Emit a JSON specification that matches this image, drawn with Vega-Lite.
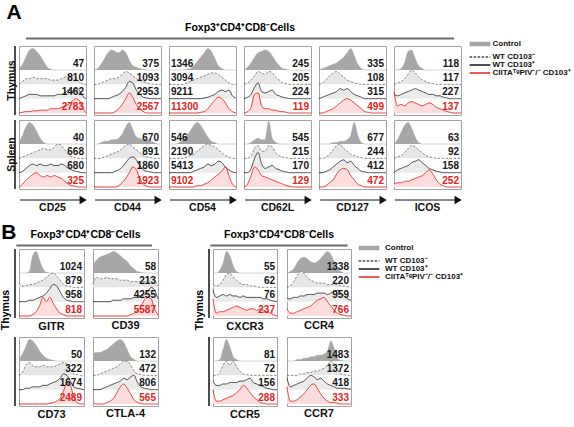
{
"$schema":"https://vega.github.io/schema/vega-lite/v6.json",
"background":"white",
"padding":{"left":1,"top":2,"right":0,"bottom":0},
"config":{"font":"Liberation Sans","view":{"stroke":"#a3a3a3","strokeWidth":1}},
"datasets":{
"A":[
{"t":"Thymus","m":"CD25","b":0,"c":1,"n":0,"p":0,"r":0},{"t":"Thymus","m":"CD25","b":1,"c":4,"n":2,"p":1,"r":0.5},{"t":"Thymus","m":"CD25","b":2,"c":9,"n":4,"p":2,"r":1},{"t":"Thymus","m":"CD25","b":3,"c":14,"n":4,"p":3,"r":1},{"t":"Thymus","m":"CD25","b":4,"c":15,"n":5,"p":3,"r":1.5},{"t":"Thymus","m":"CD25","b":5,"c":13,"n":4,"p":3,"r":1.5},{"t":"Thymus","m":"CD25","b":6,"c":10,"n":4,"p":2,"r":2},{"t":"Thymus","m":"CD25","b":7,"c":6,"n":4,"p":2,"r":2},{"t":"Thymus","m":"CD25","b":8,"c":2,"n":4,"p":2,"r":2},{"t":"Thymus","m":"CD25","b":9,"c":0.5,"n":3,"p":2,"r":3},{"t":"Thymus","m":"CD25","b":10,"c":0,"n":3,"p":2,"r":3},{"t":"Thymus","m":"CD25","b":11,"c":0,"n":3,"p":3,"r":3},{"t":"Thymus","m":"CD25","b":12,"c":0,"n":4,"p":3,"r":4},{"t":"Thymus","m":"CD25","b":13,"c":0,"n":5,"p":4,"r":5},{"t":"Thymus","m":"CD25","b":14,"c":0,"n":6,"p":6,"r":6},{"t":"Thymus","m":"CD25","b":15,"c":0,"n":6,"p":5,"r":8},{"t":"Thymus","m":"CD25","b":16,"c":0,"n":5,"p":7,"r":10},{"t":"Thymus","m":"CD25","b":17,"c":0,"n":2,"p":6,"r":9},{"t":"Thymus","m":"CD25","b":18,"c":0,"n":0.5,"p":2,"r":4},{"t":"Thymus","m":"CD25","b":19,"c":0,"n":0,"p":0,"r":0},
{"t":"Thymus","m":"CD44","b":0,"c":0,"n":0,"p":0,"r":0},{"t":"Thymus","m":"CD44","b":1,"c":1,"n":0,"p":0,"r":0},{"t":"Thymus","m":"CD44","b":2,"c":4,"n":1,"p":0,"r":0},{"t":"Thymus","m":"CD44","b":3,"c":8,"n":2,"p":0,"r":0},{"t":"Thymus","m":"CD44","b":4,"c":12,"n":3,"p":0,"r":0},{"t":"Thymus","m":"CD44","b":5,"c":14,"n":4,"p":1,"r":0},{"t":"Thymus","m":"CD44","b":6,"c":13,"n":4,"p":2,"r":1},{"t":"Thymus","m":"CD44","b":7,"c":12,"n":5,"p":3,"r":3},{"t":"Thymus","m":"CD44","b":8,"c":14,"n":7,"p":5,"r":6},{"t":"Thymus","m":"CD44","b":9,"c":12,"n":9,"p":8,"r":10},{"t":"Thymus","m":"CD44","b":10,"c":7,"n":8,"p":12,"r":14},{"t":"Thymus","m":"CD44","b":11,"c":3,"n":6,"p":11,"r":11},{"t":"Thymus","m":"CD44","b":12,"c":2,"n":4,"p":6,"r":6},{"t":"Thymus","m":"CD44","b":13,"c":1,"n":3,"p":3,"r":3},{"t":"Thymus","m":"CD44","b":14,"c":0.5,"n":2,"p":1,"r":1},{"t":"Thymus","m":"CD44","b":15,"c":0,"n":1,"p":0.5,"r":0},{"t":"Thymus","m":"CD44","b":16,"c":0,"n":0.5,"p":0,"r":0},{"t":"Thymus","m":"CD44","b":17,"c":0,"n":0,"p":0,"r":0},{"t":"Thymus","m":"CD44","b":18,"c":0,"n":0,"p":0,"r":0},{"t":"Thymus","m":"CD44","b":19,"c":0,"n":0,"p":0,"r":0},
{"t":"Thymus","m":"CD54","b":0,"c":0,"n":0,"p":0,"r":0},{"t":"Thymus","m":"CD54","b":1,"c":0,"n":0,"p":0,"r":0},{"t":"Thymus","m":"CD54","b":2,"c":0,"n":0,"p":0,"r":0},{"t":"Thymus","m":"CD54","b":3,"c":0,"n":0,"p":0,"r":0},{"t":"Thymus","m":"CD54","b":4,"c":0,"n":0,"p":0,"r":0},{"t":"Thymus","m":"CD54","b":5,"c":0.5,"n":1,"p":0,"r":0},{"t":"Thymus","m":"CD54","b":6,"c":1,"n":2,"p":0,"r":0},{"t":"Thymus","m":"CD54","b":7,"c":3,"n":3,"p":0,"r":0},{"t":"Thymus","m":"CD54","b":8,"c":6,"n":4,"p":0,"r":0},{"t":"Thymus","m":"CD54","b":9,"c":9,"n":5,"p":0,"r":0.5},{"t":"Thymus","m":"CD54","b":10,"c":12,"n":6,"p":0.5,"r":1},{"t":"Thymus","m":"CD54","b":11,"c":15,"n":7,"p":1,"r":3},{"t":"Thymus","m":"CD54","b":12,"c":13,"n":8,"p":2,"r":6},{"t":"Thymus","m":"CD54","b":13,"c":8,"n":8,"p":3,"r":9},{"t":"Thymus","m":"CD54","b":14,"c":3,"n":7,"p":5,"r":11},{"t":"Thymus","m":"CD54","b":15,"c":1,"n":5,"p":6,"r":10},{"t":"Thymus","m":"CD54","b":16,"c":0,"n":3,"p":5,"r":7},{"t":"Thymus","m":"CD54","b":17,"c":0,"n":1,"p":6,"r":3},{"t":"Thymus","m":"CD54","b":18,"c":0,"n":0,"p":2,"r":1},{"t":"Thymus","m":"CD54","b":19,"c":0,"n":0,"p":0.5,"r":0},
{"t":"Thymus","m":"CD62L","b":0,"c":0,"n":0,"p":0,"r":0},{"t":"Thymus","m":"CD62L","b":1,"c":2,"n":1,"p":1,"r":1},{"t":"Thymus","m":"CD62L","b":2,"c":5,"n":3,"p":3,"r":4},{"t":"Thymus","m":"CD62L","b":3,"c":9,"n":6,"p":8,"r":13},{"t":"Thymus","m":"CD62L","b":4,"c":12,"n":9,"p":11,"r":14},{"t":"Thymus","m":"CD62L","b":5,"c":13,"n":8,"p":5,"r":5},{"t":"Thymus","m":"CD62L","b":6,"c":14,"n":7,"p":4,"r":3},{"t":"Thymus","m":"CD62L","b":7,"c":13,"n":9,"p":5,"r":3},{"t":"Thymus","m":"CD62L","b":8,"c":10,"n":8,"p":6,"r":2},{"t":"Thymus","m":"CD62L","b":9,"c":6,"n":5,"p":3,"r":2},{"t":"Thymus","m":"CD62L","b":10,"c":3,"n":3,"p":2,"r":1},{"t":"Thymus","m":"CD62L","b":11,"c":1,"n":1,"p":1,"r":1},{"t":"Thymus","m":"CD62L","b":12,"c":0.5,"n":0.5,"p":0.5,"r":0.5},{"t":"Thymus","m":"CD62L","b":13,"c":0,"n":0,"p":0,"r":0},{"t":"Thymus","m":"CD62L","b":14,"c":0,"n":0,"p":0,"r":0},{"t":"Thymus","m":"CD62L","b":15,"c":0,"n":0,"p":0,"r":0},{"t":"Thymus","m":"CD62L","b":16,"c":0,"n":0,"p":0,"r":0},{"t":"Thymus","m":"CD62L","b":17,"c":0,"n":0,"p":0,"r":0},{"t":"Thymus","m":"CD62L","b":18,"c":0,"n":0,"p":0,"r":0},{"t":"Thymus","m":"CD62L","b":19,"c":0,"n":0,"p":0,"r":0},
{"t":"Thymus","m":"CD127","b":0,"c":0,"n":0,"p":0,"r":0},{"t":"Thymus","m":"CD127","b":1,"c":1,"n":1,"p":1,"r":0},{"t":"Thymus","m":"CD127","b":2,"c":2,"n":3,"p":2,"r":1},{"t":"Thymus","m":"CD127","b":3,"c":3,"n":6,"p":3,"r":2},{"t":"Thymus","m":"CD127","b":4,"c":4,"n":8,"p":4,"r":3},{"t":"Thymus","m":"CD127","b":5,"c":5,"n":9,"p":5,"r":5},{"t":"Thymus","m":"CD127","b":6,"c":7,"n":7,"p":7,"r":7},{"t":"Thymus","m":"CD127","b":7,"c":9,"n":5,"p":6,"r":9},{"t":"Thymus","m":"CD127","b":8,"c":12,"n":3,"p":7,"r":10},{"t":"Thymus","m":"CD127","b":9,"c":15,"n":2,"p":5,"r":9},{"t":"Thymus","m":"CD127","b":10,"c":10,"n":1,"p":3,"r":7},{"t":"Thymus","m":"CD127","b":11,"c":4,"n":0.5,"p":2,"r":5},{"t":"Thymus","m":"CD127","b":12,"c":1,"n":0,"p":1,"r":3},{"t":"Thymus","m":"CD127","b":13,"c":0,"n":0,"p":0,"r":1},{"t":"Thymus","m":"CD127","b":14,"c":0,"n":0,"p":0,"r":0.5},{"t":"Thymus","m":"CD127","b":15,"c":0,"n":0,"p":0,"r":0},{"t":"Thymus","m":"CD127","b":16,"c":0,"n":0,"p":0,"r":0},{"t":"Thymus","m":"CD127","b":17,"c":0,"n":0,"p":0,"r":0},{"t":"Thymus","m":"CD127","b":18,"c":0,"n":0,"p":0,"r":0},{"t":"Thymus","m":"CD127","b":19,"c":0,"n":0,"p":0,"r":0},
{"t":"Thymus","m":"ICOS","b":0,"c":0,"n":0,"p":3,"r":15},{"t":"Thymus","m":"ICOS","b":1,"c":0,"n":1,"p":2,"r":5},{"t":"Thymus","m":"ICOS","b":2,"c":1,"n":2,"p":3,"r":6},{"t":"Thymus","m":"ICOS","b":3,"c":5,"n":4,"p":4,"r":5},{"t":"Thymus","m":"ICOS","b":4,"c":13,"n":7,"p":5,"r":7},{"t":"Thymus","m":"ICOS","b":5,"c":14,"n":10,"p":6,"r":8},{"t":"Thymus","m":"ICOS","b":6,"c":8,"n":8,"p":7,"r":7},{"t":"Thymus","m":"ICOS","b":7,"c":3,"n":5,"p":6,"r":6},{"t":"Thymus","m":"ICOS","b":8,"c":1,"n":3,"p":5,"r":5},{"t":"Thymus","m":"ICOS","b":9,"c":0,"n":2,"p":4,"r":6},{"t":"Thymus","m":"ICOS","b":10,"c":0,"n":1,"p":3,"r":7},{"t":"Thymus","m":"ICOS","b":11,"c":0,"n":0.5,"p":3,"r":6},{"t":"Thymus","m":"ICOS","b":12,"c":0,"n":0,"p":2,"r":4},{"t":"Thymus","m":"ICOS","b":13,"c":0,"n":0,"p":2,"r":3},{"t":"Thymus","m":"ICOS","b":14,"c":0,"n":0,"p":1,"r":2},{"t":"Thymus","m":"ICOS","b":15,"c":0,"n":0,"p":0.5,"r":1},{"t":"Thymus","m":"ICOS","b":16,"c":0,"n":0,"p":0,"r":0.5},{"t":"Thymus","m":"ICOS","b":17,"c":0,"n":0,"p":0,"r":0},{"t":"Thymus","m":"ICOS","b":18,"c":0,"n":0,"p":0,"r":0},{"t":"Thymus","m":"ICOS","b":19,"c":0,"n":0,"p":0,"r":0},
{"t":"Spleen","m":"CD25","b":0,"c":1,"n":0,"p":0,"r":0},{"t":"Spleen","m":"CD25","b":1,"c":6,"n":1,"p":1,"r":2},{"t":"Spleen","m":"CD25","b":2,"c":12,"n":2,"p":3,"r":5},{"t":"Spleen","m":"CD25","b":3,"c":15,"n":3,"p":5,"r":7},{"t":"Spleen","m":"CD25","b":4,"c":13,"n":4,"p":6,"r":9},{"t":"Spleen","m":"CD25","b":5,"c":9,"n":5,"p":5,"r":10},{"t":"Spleen","m":"CD25","b":6,"c":4,"n":6,"p":6,"r":8},{"t":"Spleen","m":"CD25","b":7,"c":1,"n":7,"p":5,"r":7},{"t":"Spleen","m":"CD25","b":8,"c":0,"n":6,"p":5,"r":8},{"t":"Spleen","m":"CD25","b":9,"c":0,"n":6,"p":6,"r":7},{"t":"Spleen","m":"CD25","b":10,"c":0,"n":8,"p":5,"r":8},{"t":"Spleen","m":"CD25","b":11,"c":0,"n":10,"p":5,"r":7},{"t":"Spleen","m":"CD25","b":12,"c":0,"n":9,"p":6,"r":6},{"t":"Spleen","m":"CD25","b":13,"c":0,"n":6,"p":5,"r":4},{"t":"Spleen","m":"CD25","b":14,"c":0,"n":3,"p":3,"r":2},{"t":"Spleen","m":"CD25","b":15,"c":0,"n":1,"p":2,"r":1},{"t":"Spleen","m":"CD25","b":16,"c":0,"n":0.5,"p":1,"r":0.5},{"t":"Spleen","m":"CD25","b":17,"c":0,"n":0,"p":0.5,"r":0},{"t":"Spleen","m":"CD25","b":18,"c":0,"n":0,"p":0,"r":0},{"t":"Spleen","m":"CD25","b":19,"c":0,"n":0,"p":0,"r":0},
{"t":"Spleen","m":"CD44","b":0,"c":0,"n":0,"p":0,"r":0},{"t":"Spleen","m":"CD44","b":1,"c":0,"n":0,"p":0,"r":0},{"t":"Spleen","m":"CD44","b":2,"c":1,"n":0,"p":0,"r":0},{"t":"Spleen","m":"CD44","b":3,"c":2,"n":1,"p":0,"r":0},{"t":"Spleen","m":"CD44","b":4,"c":2,"n":2,"p":0,"r":0},{"t":"Spleen","m":"CD44","b":5,"c":3,"n":3,"p":0,"r":0},{"t":"Spleen","m":"CD44","b":6,"c":3,"n":4,"p":1,"r":0},{"t":"Spleen","m":"CD44","b":7,"c":4,"n":5,"p":2,"r":1},{"t":"Spleen","m":"CD44","b":8,"c":7,"n":7,"p":4,"r":3},{"t":"Spleen","m":"CD44","b":9,"c":12,"n":9,"p":7,"r":6},{"t":"Spleen","m":"CD44","b":10,"c":15,"n":10,"p":10,"r":10},{"t":"Spleen","m":"CD44","b":11,"c":10,"n":8,"p":11,"r":14},{"t":"Spleen","m":"CD44","b":12,"c":5,"n":6,"p":9,"r":12},{"t":"Spleen","m":"CD44","b":13,"c":4,"n":4,"p":5,"r":6},{"t":"Spleen","m":"CD44","b":14,"c":3,"n":2,"p":2,"r":2},{"t":"Spleen","m":"CD44","b":15,"c":3,"n":1,"p":1,"r":0.5},{"t":"Spleen","m":"CD44","b":16,"c":2,"n":0.5,"p":0.5,"r":0},{"t":"Spleen","m":"CD44","b":17,"c":1,"n":0,"p":0,"r":0},{"t":"Spleen","m":"CD44","b":18,"c":0,"n":0,"p":0,"r":0},{"t":"Spleen","m":"CD44","b":19,"c":0,"n":0,"p":0,"r":0},
{"t":"Spleen","m":"CD54","b":0,"c":0,"n":0,"p":0,"r":0},{"t":"Spleen","m":"CD54","b":1,"c":0,"n":0,"p":0,"r":0},{"t":"Spleen","m":"CD54","b":2,"c":0,"n":0,"p":0,"r":0},{"t":"Spleen","m":"CD54","b":3,"c":1,"n":0,"p":0,"r":0},{"t":"Spleen","m":"CD54","b":4,"c":3,"n":0,"p":0,"r":0},{"t":"Spleen","m":"CD54","b":5,"c":6,"n":1,"p":0,"r":0},{"t":"Spleen","m":"CD54","b":6,"c":9,"n":2,"p":0,"r":0},{"t":"Spleen","m":"CD54","b":7,"c":13,"n":3,"p":1,"r":0},{"t":"Spleen","m":"CD54","b":8,"c":15,"n":5,"p":2,"r":1},{"t":"Spleen","m":"CD54","b":9,"c":13,"n":7,"p":3,"r":1},{"t":"Spleen","m":"CD54","b":10,"c":9,"n":9,"p":4,"r":2},{"t":"Spleen","m":"CD54","b":11,"c":5,"n":10,"p":6,"r":3},{"t":"Spleen","m":"CD54","b":12,"c":2,"n":9,"p":5,"r":5},{"t":"Spleen","m":"CD54","b":13,"c":1,"n":8,"p":6,"r":7},{"t":"Spleen","m":"CD54","b":14,"c":0,"n":6,"p":8,"r":9},{"t":"Spleen","m":"CD54","b":15,"c":0,"n":4,"p":7,"r":11},{"t":"Spleen","m":"CD54","b":16,"c":0,"n":2,"p":4,"r":14},{"t":"Spleen","m":"CD54","b":17,"c":0,"n":1,"p":2,"r":8},{"t":"Spleen","m":"CD54","b":18,"c":0,"n":0,"p":0.5,"r":2},{"t":"Spleen","m":"CD54","b":19,"c":0,"n":0,"p":0,"r":0},
{"t":"Spleen","m":"CD62L","b":0,"c":0,"n":0,"p":0,"r":0},{"t":"Spleen","m":"CD62L","b":1,"c":0,"n":0,"p":0,"r":2},{"t":"Spleen","m":"CD62L","b":2,"c":1,"n":2,"p":3,"r":8},{"t":"Spleen","m":"CD62L","b":3,"c":3,"n":7,"p":10,"r":14},{"t":"Spleen","m":"CD62L","b":4,"c":4,"n":9,"p":14,"r":12},{"t":"Spleen","m":"CD62L","b":5,"c":3,"n":5,"p":6,"r":8},{"t":"Spleen","m":"CD62L","b":6,"c":3,"n":5,"p":3,"r":7},{"t":"Spleen","m":"CD62L","b":7,"c":16,"n":9,"p":4,"r":6},{"t":"Spleen","m":"CD62L","b":8,"c":4,"n":8,"p":5,"r":5},{"t":"Spleen","m":"CD62L","b":9,"c":1,"n":4,"p":3,"r":4},{"t":"Spleen","m":"CD62L","b":10,"c":0,"n":2,"p":2,"r":3},{"t":"Spleen","m":"CD62L","b":11,"c":0,"n":1,"p":1,"r":2},{"t":"Spleen","m":"CD62L","b":12,"c":0,"n":0.5,"p":0.5,"r":1},{"t":"Spleen","m":"CD62L","b":13,"c":0,"n":0,"p":0,"r":0.5},{"t":"Spleen","m":"CD62L","b":14,"c":0,"n":0,"p":0,"r":0},{"t":"Spleen","m":"CD62L","b":15,"c":0,"n":0,"p":0,"r":0},{"t":"Spleen","m":"CD62L","b":16,"c":0,"n":0,"p":0,"r":0},{"t":"Spleen","m":"CD62L","b":17,"c":0,"n":0,"p":0,"r":0},{"t":"Spleen","m":"CD62L","b":18,"c":0,"n":0,"p":0,"r":0},{"t":"Spleen","m":"CD62L","b":19,"c":0,"n":0,"p":0,"r":0},
{"t":"Spleen","m":"CD127","b":0,"c":0,"n":0,"p":0,"r":0},{"t":"Spleen","m":"CD127","b":1,"c":0,"n":0,"p":0,"r":0},{"t":"Spleen","m":"CD127","b":2,"c":0,"n":1,"p":1,"r":1},{"t":"Spleen","m":"CD127","b":3,"c":0,"n":3,"p":2,"r":3},{"t":"Spleen","m":"CD127","b":4,"c":1,"n":6,"p":4,"r":5},{"t":"Spleen","m":"CD127","b":5,"c":1,"n":9,"p":6,"r":9},{"t":"Spleen","m":"CD127","b":6,"c":2,"n":10,"p":8,"r":12},{"t":"Spleen","m":"CD127","b":7,"c":2,"n":7,"p":9,"r":13},{"t":"Spleen","m":"CD127","b":8,"c":3,"n":5,"p":7,"r":12},{"t":"Spleen","m":"CD127","b":9,"c":6,"n":3,"p":8,"r":8},{"t":"Spleen","m":"CD127","b":10,"c":15,"n":2,"p":5,"r":5},{"t":"Spleen","m":"CD127","b":11,"c":6,"n":1,"p":3,"r":2},{"t":"Spleen","m":"CD127","b":12,"c":1,"n":0.5,"p":1,"r":1},{"t":"Spleen","m":"CD127","b":13,"c":0,"n":0,"p":0.5,"r":0},{"t":"Spleen","m":"CD127","b":14,"c":0,"n":0,"p":0,"r":0},{"t":"Spleen","m":"CD127","b":15,"c":0,"n":0,"p":0,"r":0},{"t":"Spleen","m":"CD127","b":16,"c":0,"n":0,"p":0,"r":0},{"t":"Spleen","m":"CD127","b":17,"c":0,"n":0,"p":0,"r":0},{"t":"Spleen","m":"CD127","b":18,"c":0,"n":0,"p":0,"r":0},{"t":"Spleen","m":"CD127","b":19,"c":0,"n":0,"p":0,"r":0},
{"t":"Spleen","m":"ICOS","b":0,"c":0,"n":0,"p":0,"r":2},{"t":"Spleen","m":"ICOS","b":1,"c":3,"n":1,"p":2,"r":3},{"t":"Spleen","m":"ICOS","b":2,"c":8,"n":2,"p":3,"r":3},{"t":"Spleen","m":"ICOS","b":3,"c":13,"n":4,"p":4,"r":4},{"t":"Spleen","m":"ICOS","b":4,"c":15,"n":7,"p":5,"r":4},{"t":"Spleen","m":"ICOS","b":5,"c":11,"n":9,"p":7,"r":5},{"t":"Spleen","m":"ICOS","b":6,"c":5,"n":8,"p":8,"r":6},{"t":"Spleen","m":"ICOS","b":7,"c":1,"n":6,"p":9,"r":7},{"t":"Spleen","m":"ICOS","b":8,"c":0,"n":4,"p":7,"r":8},{"t":"Spleen","m":"ICOS","b":9,"c":0,"n":2,"p":5,"r":10},{"t":"Spleen","m":"ICOS","b":10,"c":0,"n":1,"p":3,"r":12},{"t":"Spleen","m":"ICOS","b":11,"c":0,"n":0.5,"p":2,"r":9},{"t":"Spleen","m":"ICOS","b":12,"c":0,"n":0,"p":1,"r":5},{"t":"Spleen","m":"ICOS","b":13,"c":0,"n":0,"p":0.5,"r":2},{"t":"Spleen","m":"ICOS","b":14,"c":0,"n":0,"p":0,"r":1},{"t":"Spleen","m":"ICOS","b":15,"c":0,"n":0,"p":0,"r":0},{"t":"Spleen","m":"ICOS","b":16,"c":0,"n":0,"p":0,"r":0},{"t":"Spleen","m":"ICOS","b":17,"c":0,"n":0,"p":0,"r":0},{"t":"Spleen","m":"ICOS","b":18,"c":0,"n":0,"p":0,"r":0},{"t":"Spleen","m":"ICOS","b":19,"c":0,"n":0,"p":0,"r":0},
{"t":"Thymus","m":"CD25","k":"c","val":47},{"t":"Thymus","m":"CD25","k":"n","val":810},{"t":"Thymus","m":"CD25","k":"p","val":1462},{"t":"Thymus","m":"CD25","k":"r","val":2783},
{"t":"Thymus","m":"CD44","k":"c","val":375},{"t":"Thymus","m":"CD44","k":"n","val":1093},{"t":"Thymus","m":"CD44","k":"p","val":2953},{"t":"Thymus","m":"CD44","k":"r","val":2567},
{"t":"Thymus","m":"CD54","k":"c","val":1346},{"t":"Thymus","m":"CD54","k":"n","val":3094},{"t":"Thymus","m":"CD54","k":"p","val":9211},{"t":"Thymus","m":"CD54","k":"r","val":11300},
{"t":"Thymus","m":"CD62L","k":"c","val":245},{"t":"Thymus","m":"CD62L","k":"n","val":205},{"t":"Thymus","m":"CD62L","k":"p","val":224},{"t":"Thymus","m":"CD62L","k":"r","val":119},
{"t":"Thymus","m":"CD127","k":"c","val":335},{"t":"Thymus","m":"CD127","k":"n","val":108},{"t":"Thymus","m":"CD127","k":"p","val":315},{"t":"Thymus","m":"CD127","k":"r","val":499},
{"t":"Thymus","m":"ICOS","k":"c","val":118},{"t":"Thymus","m":"ICOS","k":"n","val":117},{"t":"Thymus","m":"ICOS","k":"p","val":227},{"t":"Thymus","m":"ICOS","k":"r","val":137},
{"t":"Spleen","m":"CD25","k":"c","val":40},{"t":"Spleen","m":"CD25","k":"n","val":668},{"t":"Spleen","m":"CD25","k":"p","val":680},{"t":"Spleen","m":"CD25","k":"r","val":325},
{"t":"Spleen","m":"CD44","k":"c","val":670},{"t":"Spleen","m":"CD44","k":"n","val":891},{"t":"Spleen","m":"CD44","k":"p","val":1860},{"t":"Spleen","m":"CD44","k":"r","val":1923},
{"t":"Spleen","m":"CD54","k":"c","val":546},{"t":"Spleen","m":"CD54","k":"n","val":2190},{"t":"Spleen","m":"CD54","k":"p","val":5413},{"t":"Spleen","m":"CD54","k":"r","val":9102},
{"t":"Spleen","m":"CD62L","k":"c","val":545},{"t":"Spleen","m":"CD62L","k":"n","val":215},{"t":"Spleen","m":"CD62L","k":"p","val":170},{"t":"Spleen","m":"CD62L","k":"r","val":129},
{"t":"Spleen","m":"CD127","k":"c","val":677},{"t":"Spleen","m":"CD127","k":"n","val":244},{"t":"Spleen","m":"CD127","k":"p","val":412},{"t":"Spleen","m":"CD127","k":"r","val":472},
{"t":"Spleen","m":"ICOS","k":"c","val":63},{"t":"Spleen","m":"ICOS","k":"n","val":92},{"t":"Spleen","m":"ICOS","k":"p","val":158},{"t":"Spleen","m":"ICOS","k":"r","val":252}
],
"BL":[
{"m":"GITR","b":0,"c":0,"n":3,"p":0,"r":0},{"m":"GITR","b":1,"c":0,"n":1,"p":0,"r":0},{"m":"GITR","b":2,"c":0,"n":1,"p":0,"r":0},{"m":"GITR","b":3,"c":1,"n":2,"p":1,"r":0},{"m":"GITR","b":4,"c":12,"n":2,"p":1,"r":1},{"m":"GITR","b":5,"c":15,"n":3,"p":2,"r":3},{"m":"GITR","b":6,"c":9,"n":4,"p":3,"r":7},{"m":"GITR","b":7,"c":3,"n":5,"p":4,"r":13},{"m":"GITR","b":8,"c":0.5,"n":7,"p":6,"r":10},{"m":"GITR","b":9,"c":0,"n":9,"p":9,"r":13},{"m":"GITR","b":10,"c":0,"n":10,"p":12,"r":9},{"m":"GITR","b":11,"c":0,"n":8,"p":11,"r":5},{"m":"GITR","b":12,"c":0,"n":5,"p":7,"r":2},{"m":"GITR","b":13,"c":0,"n":2,"p":3,"r":1},{"m":"GITR","b":14,"c":0,"n":1,"p":1,"r":0},{"m":"GITR","b":15,"c":0,"n":0.5,"p":0.5,"r":0},{"m":"GITR","b":16,"c":0,"n":0,"p":0,"r":0},{"m":"GITR","b":17,"c":0,"n":0,"p":0,"r":0},{"m":"GITR","b":18,"c":0,"n":0,"p":0,"r":0},{"m":"GITR","b":19,"c":0,"n":0,"p":0,"r":0},
{"m":"CD39","b":0,"c":6,"n":2,"p":0,"r":0},{"m":"CD39","b":1,"c":9,"n":7,"p":0,"r":0},{"m":"CD39","b":2,"c":11,"n":6,"p":0,"r":0},{"m":"CD39","b":3,"c":12,"n":6,"p":0,"r":0},{"m":"CD39","b":4,"c":13,"n":7,"p":0,"r":0},{"m":"CD39","b":5,"c":14,"n":6,"p":0,"r":0},{"m":"CD39","b":6,"c":15,"n":6,"p":1,"r":0},{"m":"CD39","b":7,"c":14,"n":6,"p":1,"r":0},{"m":"CD39","b":8,"c":12,"n":5,"p":1,"r":0},{"m":"CD39","b":9,"c":10,"n":5,"p":2,"r":0},{"m":"CD39","b":10,"c":8,"n":5,"p":2,"r":0},{"m":"CD39","b":11,"c":5,"n":4,"p":2,"r":1},{"m":"CD39","b":12,"c":3,"n":4,"p":3,"r":2},{"m":"CD39","b":13,"c":1,"n":4,"p":3,"r":4},{"m":"CD39","b":14,"c":0.5,"n":4,"p":4,"r":7},{"m":"CD39","b":15,"c":0,"n":4,"p":5,"r":11},{"m":"CD39","b":16,"c":0,"n":5,"p":7,"r":13},{"m":"CD39","b":17,"c":0,"n":7,"p":10,"r":12},{"m":"CD39","b":18,"c":0,"n":5,"p":8,"r":5},{"m":"CD39","b":19,"c":0,"n":1,"p":2,"r":0.5},
{"m":"CD73","b":0,"c":1,"n":0,"p":0,"r":0},{"m":"CD73","b":1,"c":5,"n":2,"p":0,"r":0},{"m":"CD73","b":2,"c":10,"n":7,"p":1,"r":0},{"m":"CD73","b":3,"c":15,"n":9,"p":1,"r":0},{"m":"CD73","b":4,"c":14,"n":7,"p":2,"r":0},{"m":"CD73","b":5,"c":11,"n":6,"p":2,"r":0},{"m":"CD73","b":6,"c":7,"n":6,"p":2,"r":0},{"m":"CD73","b":7,"c":4,"n":7,"p":3,"r":0},{"m":"CD73","b":8,"c":2,"n":6,"p":3,"r":0},{"m":"CD73","b":9,"c":1,"n":6,"p":4,"r":0.5},{"m":"CD73","b":10,"c":0.5,"n":6,"p":5,"r":1},{"m":"CD73","b":11,"c":0,"n":7,"p":6,"r":2},{"m":"CD73","b":12,"c":0,"n":8,"p":8,"r":4},{"m":"CD73","b":13,"c":0,"n":9,"p":11,"r":9},{"m":"CD73","b":14,"c":0,"n":8,"p":10,"r":15},{"m":"CD73","b":15,"c":0,"n":4,"p":6,"r":13},{"m":"CD73","b":16,"c":0,"n":1,"p":2,"r":5},{"m":"CD73","b":17,"c":0,"n":0.5,"p":1,"r":1},{"m":"CD73","b":18,"c":0,"n":0,"p":0.5,"r":0},{"m":"CD73","b":19,"c":0,"n":0,"p":0,"r":0},
{"m":"CTLA-4","b":0,"c":5,"n":0,"p":0,"r":1},{"m":"CTLA-4","b":1,"c":6,"n":0,"p":0,"r":0},{"m":"CTLA-4","b":2,"c":6,"n":1,"p":0,"r":0},{"m":"CTLA-4","b":3,"c":7,"n":2,"p":1,"r":0},{"m":"CTLA-4","b":4,"c":8,"n":3,"p":2,"r":1},{"m":"CTLA-4","b":5,"c":10,"n":4,"p":3,"r":2},{"m":"CTLA-4","b":6,"c":12,"n":5,"p":4,"r":4},{"m":"CTLA-4","b":7,"c":14,"n":6,"p":5,"r":8},{"m":"CTLA-4","b":8,"c":15,"n":8,"p":6,"r":12},{"m":"CTLA-4","b":9,"c":13,"n":10,"p":8,"r":14},{"m":"CTLA-4","b":10,"c":8,"n":10,"p":7,"r":11},{"m":"CTLA-4","b":11,"c":3,"n":7,"p":9,"r":7},{"m":"CTLA-4","b":12,"c":1,"n":3,"p":10,"r":3},{"m":"CTLA-4","b":13,"c":0,"n":1,"p":5,"r":1},{"m":"CTLA-4","b":14,"c":0,"n":0.5,"p":2,"r":0.5},{"m":"CTLA-4","b":15,"c":0,"n":0,"p":1,"r":0},{"m":"CTLA-4","b":16,"c":0,"n":0,"p":0.5,"r":0},{"m":"CTLA-4","b":17,"c":0,"n":0,"p":0,"r":0},{"m":"CTLA-4","b":18,"c":0,"n":0,"p":0,"r":0},{"m":"CTLA-4","b":19,"c":0,"n":0,"p":0,"r":0},
{"m":"GITR","k":"c","val":1024},{"m":"GITR","k":"n","val":879},{"m":"GITR","k":"p","val":958},{"m":"GITR","k":"r","val":818},
{"m":"CD39","k":"c","val":58},{"m":"CD39","k":"n","val":213},{"m":"CD39","k":"p","val":4255},{"m":"CD39","k":"r","val":5587},
{"m":"CD73","k":"c","val":50},{"m":"CD73","k":"n","val":322},{"m":"CD73","k":"p","val":1674},{"m":"CD73","k":"r","val":2489},
{"m":"CTLA-4","k":"c","val":132},{"m":"CTLA-4","k":"n","val":472},{"m":"CTLA-4","k":"p","val":806},{"m":"CTLA-4","k":"r","val":565}
],
"BR":[
{"m":"CXCR3","b":0,"c":0,"n":2,"p":8,"r":12},{"m":"CXCR3","b":1,"c":0,"n":1,"p":3,"r":2},{"m":"CXCR3","b":2,"c":2,"n":2,"p":4,"r":3},{"m":"CXCR3","b":3,"c":7,"n":5,"p":5,"r":3},{"m":"CXCR3","b":4,"c":15,"n":9,"p":4,"r":4},{"m":"CXCR3","b":5,"c":12,"n":10,"p":5,"r":5},{"m":"CXCR3","b":6,"c":5,"n":7,"p":4,"r":6},{"m":"CXCR3","b":7,"c":1,"n":5,"p":4,"r":7},{"m":"CXCR3","b":8,"c":0,"n":3,"p":3,"r":6},{"m":"CXCR3","b":9,"c":0,"n":2,"p":4,"r":5},{"m":"CXCR3","b":10,"c":0,"n":2,"p":3,"r":4},{"m":"CXCR3","b":11,"c":0,"n":1,"p":3,"r":5},{"m":"CXCR3","b":12,"c":0,"n":1,"p":3,"r":5},{"m":"CXCR3","b":13,"c":0,"n":0.5,"p":3,"r":4},{"m":"CXCR3","b":14,"c":0,"n":0,"p":3,"r":5},{"m":"CXCR3","b":15,"c":0,"n":0,"p":2,"r":4},{"m":"CXCR3","b":16,"c":0,"n":0,"p":2,"r":3},{"m":"CXCR3","b":17,"c":0,"n":0,"p":1,"r":2},{"m":"CXCR3","b":18,"c":0,"n":0,"p":0.5,"r":1},{"m":"CXCR3","b":19,"c":0,"n":0,"p":0,"r":0},
{"m":"CCR4","b":0,"c":0,"n":0,"p":2,"r":5},{"m":"CCR4","b":1,"c":1,"n":1,"p":2,"r":2},{"m":"CCR4","b":2,"c":3,"n":4,"p":3,"r":2},{"m":"CCR4","b":3,"c":7,"n":8,"p":3,"r":3},{"m":"CCR4","b":4,"c":10,"n":11,"p":4,"r":4},{"m":"CCR4","b":5,"c":11,"n":10,"p":4,"r":5},{"m":"CCR4","b":6,"c":10,"n":7,"p":5,"r":6},{"m":"CCR4","b":7,"c":8,"n":5,"p":5,"r":7},{"m":"CCR4","b":8,"c":7,"n":4,"p":5,"r":9},{"m":"CCR4","b":9,"c":8,"n":3,"p":6,"r":11},{"m":"CCR4","b":10,"c":10,"n":3,"p":6,"r":12},{"m":"CCR4","b":11,"c":13,"n":3,"p":6,"r":13},{"m":"CCR4","b":12,"c":15,"n":2,"p":5,"r":10},{"m":"CCR4","b":13,"c":13,"n":2,"p":6,"r":7},{"m":"CCR4","b":14,"c":8,"n":2,"p":7,"r":4},{"m":"CCR4","b":15,"c":3,"n":2,"p":8,"r":2},{"m":"CCR4","b":16,"c":1,"n":1,"p":6,"r":1},{"m":"CCR4","b":17,"c":0,"n":1,"p":4,"r":0.5},{"m":"CCR4","b":18,"c":0,"n":0.5,"p":2,"r":0},{"m":"CCR4","b":19,"c":0,"n":0,"p":1,"r":0},
{"m":"CCR5","b":0,"c":0,"n":0,"p":6,"r":10},{"m":"CCR5","b":1,"c":0,"n":0,"p":3,"r":2},{"m":"CCR5","b":2,"c":1,"n":2,"p":3,"r":2},{"m":"CCR5","b":3,"c":8,"n":7,"p":4,"r":3},{"m":"CCR5","b":4,"c":15,"n":10,"p":4,"r":4},{"m":"CCR5","b":5,"c":10,"n":7,"p":5,"r":5},{"m":"CCR5","b":6,"c":3,"n":10,"p":5,"r":6},{"m":"CCR5","b":7,"c":1,"n":6,"p":5,"r":8},{"m":"CCR5","b":8,"c":0,"n":3,"p":6,"r":10},{"m":"CCR5","b":9,"c":0,"n":1,"p":6,"r":13},{"m":"CCR5","b":10,"c":0,"n":0.5,"p":7,"r":11},{"m":"CCR5","b":11,"c":0,"n":0,"p":8,"r":8},{"m":"CCR5","b":12,"c":0,"n":0,"p":5,"r":5},{"m":"CCR5","b":13,"c":0,"n":0,"p":4,"r":3},{"m":"CCR5","b":14,"c":0,"n":0,"p":3,"r":1},{"m":"CCR5","b":15,"c":0,"n":0,"p":2,"r":0.5},{"m":"CCR5","b":16,"c":0,"n":0,"p":1,"r":0},{"m":"CCR5","b":17,"c":0,"n":0,"p":0.5,"r":0},{"m":"CCR5","b":18,"c":0,"n":0,"p":0,"r":0},{"m":"CCR5","b":19,"c":0,"n":0,"p":0,"r":0},
{"m":"CCR7","b":0,"c":0,"n":0,"p":8,"r":12},{"m":"CCR7","b":1,"c":0,"n":0,"p":2,"r":2},{"m":"CCR7","b":2,"c":0,"n":0,"p":3,"r":2},{"m":"CCR7","b":3,"c":1,"n":0,"p":4,"r":3},{"m":"CCR7","b":4,"c":1,"n":1,"p":5,"r":5},{"m":"CCR7","b":5,"c":2,"n":1,"p":6,"r":7},{"m":"CCR7","b":6,"c":2,"n":2,"p":8,"r":10},{"m":"CCR7","b":7,"c":3,"n":2,"p":10,"r":13},{"m":"CCR7","b":8,"c":3,"n":3,"p":9,"r":14},{"m":"CCR7","b":9,"c":4,"n":3,"p":7,"r":11},{"m":"CCR7","b":10,"c":4,"n":4,"p":8,"r":7},{"m":"CCR7","b":11,"c":5,"n":5,"p":6,"r":4},{"m":"CCR7","b":12,"c":7,"n":7,"p":4,"r":2},{"m":"CCR7","b":13,"c":14,"n":10,"p":3,"r":1},{"m":"CCR7","b":14,"c":9,"n":8,"p":2,"r":1},{"m":"CCR7","b":15,"c":2,"n":4,"p":1,"r":0.5},{"m":"CCR7","b":16,"c":0.5,"n":1,"p":1,"r":0},{"m":"CCR7","b":17,"c":0,"n":0.5,"p":1,"r":0},{"m":"CCR7","b":18,"c":0,"n":0,"p":0.5,"r":0},{"m":"CCR7","b":19,"c":0,"n":0,"p":0.5,"r":0},
{"m":"CXCR3","k":"c","val":55},{"m":"CXCR3","k":"n","val":62},{"m":"CXCR3","k":"p","val":76},{"m":"CXCR3","k":"r","val":237},
{"m":"CCR4","k":"c","val":1338},{"m":"CCR4","k":"n","val":220},{"m":"CCR4","k":"p","val":959},{"m":"CCR4","k":"r","val":766},
{"m":"CCR5","k":"c","val":81},{"m":"CCR5","k":"n","val":72},{"m":"CCR5","k":"p","val":156},{"m":"CCR5","k":"r","val":288},
{"m":"CCR7","k":"c","val":1483},{"m":"CCR7","k":"n","val":1372},{"m":"CCR7","k":"p","val":418},{"m":"CCR7","k":"r","val":333}
]
},
"vconcat":[
{
"title":{"text":"A","anchor":"start","fontSize":21,"fontWeight":"bold","offset":0},
"spacing":7,"bounds":"flush",
"vconcat":[
{"width":442,"height":1,"view":{"stroke":null},"title":{"text":"Foxp3⁺CD4⁺CD8⁻Cells","fontSize":10.5,"fontWeight":"bold","offset":4},"data":{"values":[{}]},"mark":{"type":"rule","color":"#6b6b6b","strokeWidth":2},"encoding":{"x":{"datum":0.016,"type":"quantitative","scale":{"domain":[0,1]},"axis":null},"x2":{"datum":0.984},"y":{"datum":0.5,"type":"quantitative","scale":{"domain":[0,1]},"axis":null}}},
{"data":{"name":"A"},
"facet":{"row":{"field":"t","type":"nominal","sort":["Thymus","Spleen"],"title":null,"header":{"labelAngle":-90,"labelOrient":"left","labelFontSize":10.5,"labelFontWeight":"bold","labelPadding":-3,"labelColor":"#111"}},
"column":{"field":"m","type":"nominal","sort":["CD25","CD44","CD54","CD62L","CD127","ICOS"],"title":null,"header":{"labelOrient":"bottom","labelFontSize":10.5,"labelFontWeight":"bold","labelPadding":14,"labelColor":"#111"}}},
"spacing":{"row":5,"column":8},"bounds":"flush",
"resolve":{"axis":{"x":"independent"}},
"spec":{"width":67,"height":69,"layer":[
{"transform":[{"filter":"isValid(datum.b)"},{"fold":["c","n","p","r"],"as":["k","v"]},{"calculate":"indexof(['r','p','n','c'],datum.k)","as":"lane"},{"calculate":"datum.lane+datum.v/10","as":"top"}],
"mark":{"type":"area","interpolate":"monotone"},
"encoding":{"x":{"field":"b","type":"quantitative","scale":{"domain":[0,19],"nice":false,"zero":false},"axis":{"values":[1.5,4.5,9.5,14,18.3],"labelExpr":"datum.value<2?'0':datum.value<5?'10²':datum.value<10?'10³':datum.value<15?'10⁴':'10⁵'","labelFontSize":4,"labelColor":"#777","tickSize":1.5,"tickColor":"#888","domain":false,"grid":false,"labelPadding":0.5,"title":null,"labelFlush":false,"labelOverlap":false}},
"y":{"field":"top","type":"quantitative","scale":{"domain":[-0.14,4.68],"nice":false,"zero":false},"axis":null,"stack":null},
"y2":{"field":"lane"},
"fill":{"field":"k","type":"nominal","scale":{"domain":["c","n","p","r"],"range":["#a7a7a7","#e6e6e6","#ebebeb","#fcdcdc"]},"legend":null}}},
{"transform":[{"filter":"isValid(datum.b)"},{"fold":["c","n","p","r"],"as":["k","v"]},{"calculate":"indexof(['r','p','n','c'],datum.k)","as":"lane"},{"calculate":"datum.lane+datum.v/10","as":"top"}],
"mark":{"type":"line","interpolate":"monotone"},
"encoding":{"x":{"field":"b","type":"quantitative","axis":null},"y":{"field":"top","type":"quantitative","axis":null},
"stroke":{"field":"k","type":"nominal","scale":{"domain":["c","n","p","r"],"range":["#a5a5a5","#4a4a4a","#141414","#e3261f"]},"legend":{"title":" ","titleFontSize":9,"titlePadding":-7,"orient":"right","offset":11.5,"labelExpr":"datum.value=='c'?'Control':datum.value=='n'?'WT CD103⁻':datum.value=='p'?'WT CD103⁺':'CIITAᵀᵍPIV⁻/⁻ CD103⁺'","labelFontSize":8,"labelFontWeight":"bold","labelColor":"#111","labelOffset":8.5,"labelLimit":200,"symbolType":"M-2.6,0H2.6","symbolSize":64,"rowPadding":-1,"padding":0,"encode":{"symbols":{"update":{"strokeWidth":{"signal":"datum.value=='c'?4.5:1.5"},"strokeDash":{"signal":"datum.value=='n'?[2.5,1.5]:[1,0]"}}}}}},
"strokeDash":{"field":"k","type":"nominal","scale":{"domain":["c","n","p","r"],"range":[[1,0],[2.5,1.5],[1,0],[1,0]]},"legend":null},
"strokeWidth":{"field":"k","type":"ordinal","scale":{"domain":["c","n","p","r"],"range":[0.5,0.9,1.1,1.4]},"legend":null}}},
{"transform":[{"filter":"isValid(datum.val) && datum.m!='CD54'"},{"calculate":"indexof(['r','p','n','c'],datum.k)+0.45","as":"ly"}],
"mark":{"type":"text","align":"right","baseline":"middle","dx":-2,"fontSize":10,"fontWeight":"bold"},
"encoding":{"x":{"datum":19,"axis":null},"y":{"field":"ly","type":"quantitative","axis":null},"text":{"field":"val","type":"nominal"},"color":{"condition":{"test":"datum.k=='r'","value":"#e2231e"},"value":"#151515"}}},
{"transform":[{"filter":"isValid(datum.val) && datum.m=='CD54'"},{"calculate":"indexof(['r','p','n','c'],datum.k)+0.45","as":"ly"}],
"mark":{"type":"text","align":"left","baseline":"middle","dx":2,"fontSize":10,"fontWeight":"bold"},
"encoding":{"x":{"datum":0,"axis":null},"y":{"field":"ly","type":"quantitative","axis":null},"text":{"field":"val","type":"nominal"},"color":{"condition":{"test":"datum.k=='r'","value":"#e2231e"},"value":"#151515"}}},
{"transform":[{"filter":"datum.b===0 && datum.m==='CD25'"}],"mark":{"type":"rule","xOffset":-4,"strokeWidth":1.5,"color":"#111"},"encoding":{"x":{"datum":0,"axis":null},"y":{"datum":-0.14,"axis":null},"y2":{"datum":4.68}}},
{"transform":[{"filter":"datum.b===0 && datum.t==='Spleen'"}],"mark":{"type":"rule","yOffset":11,"strokeWidth":1,"color":"#111"},"encoding":{"x":{"datum":0.3,"axis":null},"x2":{"datum":17.6},"y":{"datum":-0.14,"axis":null}}},
{"transform":[{"filter":"datum.b===0 && datum.t==='Spleen'"}],"mark":{"type":"point","shape":"triangle-right","filled":true,"size":70,"yOffset":11,"color":"#111","opacity":1},"encoding":{"x":{"datum":18.2,"axis":null},"y":{"datum":-0.14,"axis":null}}}
]}}
]},
{
"title":{"text":"B","anchor":"start","fontSize":21,"fontWeight":"bold","offset":-13},
"spacing":34,
"hconcat":[
{"spacing":3,"bounds":"flush","vconcat":[
{"width":133,"height":1,"view":{"stroke":null},"title":{"text":"Foxp3⁺CD4⁺CD8⁻Cells","fontSize":10.5,"fontWeight":"bold","offset":4},"data":{"values":[{}]},"mark":{"type":"rule","color":"#6b6b6b","strokeWidth":2},"encoding":{"x":{"datum":-0.02,"type":"quantitative","scale":{"domain":[0,1]},"axis":null},"x2":{"datum":1.0},"y":{"datum":0.5,"type":"quantitative","scale":{"domain":[0,1]},"axis":null}}},
{"data":{"name":"BL"},
"facet":{"field":"m","type":"nominal","sort":["GITR","CD39","CD73","CTLA-4"],"title":null,"header":{"labelOrient":"bottom","labelFontSize":11,"labelFontWeight":"bold","labelPadding":2,"labelColor":"#111"}},
"columns":2,"spacing":{"row":2,"column":3},
"title":{"text":"Thymus","orient":"left","anchor":"middle","dx":24,"fontSize":10.5,"fontWeight":"bold","offset":2},
"resolve":{"axis":{"x":"independent"}},
"spec":{"width":65,"height":69,"layer":[
{"transform":[{"filter":"isValid(datum.b)"},{"fold":["c","n","p","r"],"as":["k","v"]},{"calculate":"indexof(['r','p','n','c'],datum.k)","as":"lane"},{"calculate":"datum.lane+datum.v/10","as":"top"}],
"mark":{"type":"area","interpolate":"monotone"},
"encoding":{"x":{"field":"b","type":"quantitative","scale":{"domain":[0,19],"nice":false,"zero":false},"axis":{"values":[1.5,4.5,9.5,14,18.3],"labelExpr":"datum.value<2?'0':datum.value<5?'10²':datum.value<10?'10³':datum.value<15?'10⁴':'10⁵'","labelFontSize":4,"labelColor":"#777","tickSize":1.5,"tickColor":"#888","domain":false,"grid":false,"labelPadding":0.5,"title":null,"labelFlush":false,"labelOverlap":false}},
"y":{"field":"top","type":"quantitative","scale":{"domain":[-0.14,4.68],"nice":false,"zero":false},"axis":null,"stack":null},
"y2":{"field":"lane"},
"fill":{"field":"k","type":"nominal","scale":{"domain":["c","n","p","r"],"range":["#a7a7a7","#e6e6e6","#ebebeb","#fcdcdc"]},"legend":null}}},
{"transform":[{"filter":"isValid(datum.b)"},{"fold":["c","n","p","r"],"as":["k","v"]},{"calculate":"indexof(['r','p','n','c'],datum.k)","as":"lane"},{"calculate":"datum.lane+datum.v/10","as":"top"}],
"mark":{"type":"line","interpolate":"monotone"},
"encoding":{"x":{"field":"b","type":"quantitative","axis":null},"y":{"field":"top","type":"quantitative","axis":null},
"stroke":{"field":"k","type":"nominal","scale":{"domain":["c","n","p","r"],"range":["#a5a5a5","#4a4a4a","#141414","#e3261f"]},"legend":{"title":" ","titleFontSize":9,"titlePadding":-10,"orient":"right","offset":11,"labelExpr":"datum.value=='c'?'Control':datum.value=='n'?'WT CD103⁻':datum.value=='p'?'WT CD103⁺':'CIITAᵀᵍPIV⁻/⁻ CD103⁺'","labelFontSize":8,"labelFontWeight":"bold","labelColor":"#111","labelOffset":12,"labelLimit":200,"symbolType":"M-2.6,0H2.6","symbolSize":64,"rowPadding":-1,"padding":0,"encode":{"symbols":{"update":{"strokeWidth":{"signal":"datum.value=='c'?4.5:1.5"},"strokeDash":{"signal":"datum.value=='n'?[2.5,1.5]:[1,0]"}}}}}},
"strokeDash":{"field":"k","type":"nominal","scale":{"domain":["c","n","p","r"],"range":[[1,0],[2.5,1.5],[1,0],[1,0]]},"legend":null},
"strokeWidth":{"field":"k","type":"ordinal","scale":{"domain":["c","n","p","r"],"range":[0.5,0.9,1.1,1.4]},"legend":null}}},
{"transform":[{"filter":"isValid(datum.val)"},{"calculate":"indexof(['r','p','n','c'],datum.k)+0.45","as":"ly"}],
"mark":{"type":"text","align":"right","baseline":"middle","dx":-2,"fontSize":10,"fontWeight":"bold"},
"encoding":{"x":{"datum":19,"axis":null},"y":{"field":"ly","type":"quantitative","axis":null},"text":{"field":"val","type":"nominal"},"color":{"condition":{"test":"datum.k=='r'","value":"#e2231e"},"value":"#151515"}}},
{"transform":[{"filter":"datum.b===0 && (datum.m==='GITR' || datum.m==='CXCR3' || datum.m==='CD73' || datum.m==='CCR5')"}],"mark":{"type":"rule","xOffset":-4,"strokeWidth":1.5,"color":"#111"},"encoding":{"x":{"datum":0,"axis":null},"y":{"datum":-0.14,"axis":null},"y2":{"datum":4.68}}}
]}}
]},
{"spacing":3,"bounds":"flush","vconcat":[
{"width":132,"height":1,"view":{"stroke":null},"title":{"text":"Foxp3⁺CD4⁺CD8⁻Cells","fontSize":10.5,"fontWeight":"bold","offset":4},"data":{"values":[{}]},"mark":{"type":"rule","color":"#6b6b6b","strokeWidth":2},"encoding":{"x":{"datum":-0.02,"type":"quantitative","scale":{"domain":[0,1]},"axis":null},"x2":{"datum":1.02},"y":{"datum":0.5,"type":"quantitative","scale":{"domain":[0,1]},"axis":null}}},
{"data":{"name":"BR"},
"facet":{"field":"m","type":"nominal","sort":["CXCR3","CCR4","CCR5","CCR7"],"title":null,"header":{"labelOrient":"bottom","labelFontSize":11,"labelFontWeight":"bold","labelPadding":2,"labelColor":"#111"}},
"columns":2,"spacing":{"row":2,"column":4},
"title":{"text":"Thymus","orient":"left","anchor":"middle","dx":24,"fontSize":10.5,"fontWeight":"bold","offset":2},
"resolve":{"axis":{"x":"independent"}},
"spec":{"width":64,"height":69,"layer":[
{"transform":[{"filter":"isValid(datum.b)"},{"fold":["c","n","p","r"],"as":["k","v"]},{"calculate":"indexof(['r','p','n','c'],datum.k)","as":"lane"},{"calculate":"datum.lane+datum.v/10","as":"top"}],
"mark":{"type":"area","interpolate":"monotone"},
"encoding":{"x":{"field":"b","type":"quantitative","scale":{"domain":[0,19],"nice":false,"zero":false},"axis":{"values":[1.5,4.5,9.5,14,18.3],"labelExpr":"datum.value<2?'0':datum.value<5?'10²':datum.value<10?'10³':datum.value<15?'10⁴':'10⁵'","labelFontSize":4,"labelColor":"#777","tickSize":1.5,"tickColor":"#888","domain":false,"grid":false,"labelPadding":0.5,"title":null,"labelFlush":false,"labelOverlap":false}},
"y":{"field":"top","type":"quantitative","scale":{"domain":[-0.14,4.68],"nice":false,"zero":false},"axis":null,"stack":null},
"y2":{"field":"lane"},
"fill":{"field":"k","type":"nominal","scale":{"domain":["c","n","p","r"],"range":["#a7a7a7","#e6e6e6","#ebebeb","#fcdcdc"]},"legend":null}}},
{"transform":[{"filter":"isValid(datum.b)"},{"fold":["c","n","p","r"],"as":["k","v"]},{"calculate":"indexof(['r','p','n','c'],datum.k)","as":"lane"},{"calculate":"datum.lane+datum.v/10","as":"top"}],
"mark":{"type":"line","interpolate":"monotone"},
"encoding":{"x":{"field":"b","type":"quantitative","axis":null},"y":{"field":"top","type":"quantitative","axis":null},
"stroke":{"field":"k","type":"nominal","scale":{"domain":["c","n","p","r"],"range":["#a5a5a5","#4a4a4a","#141414","#e3261f"]},"legend":{"title":" ","titleFontSize":9,"titlePadding":-10,"orient":"right","offset":11,"labelExpr":"datum.value=='c'?'Control':datum.value=='n'?'WT CD103⁻':datum.value=='p'?'WT CD103⁺':'CIITAᵀᵍPIV⁻/⁻ CD103⁺'","labelFontSize":8,"labelFontWeight":"bold","labelColor":"#111","labelOffset":12,"labelLimit":200,"symbolType":"M-2.6,0H2.6","symbolSize":64,"rowPadding":-1,"padding":0,"encode":{"symbols":{"update":{"strokeWidth":{"signal":"datum.value=='c'?4.5:1.5"},"strokeDash":{"signal":"datum.value=='n'?[2.5,1.5]:[1,0]"}}}}}},
"strokeDash":{"field":"k","type":"nominal","scale":{"domain":["c","n","p","r"],"range":[[1,0],[2.5,1.5],[1,0],[1,0]]},"legend":null},
"strokeWidth":{"field":"k","type":"ordinal","scale":{"domain":["c","n","p","r"],"range":[0.5,0.9,1.1,1.4]},"legend":null}}},
{"transform":[{"filter":"isValid(datum.val)"},{"calculate":"indexof(['r','p','n','c'],datum.k)+0.45","as":"ly"}],
"mark":{"type":"text","align":"right","baseline":"middle","dx":-2,"fontSize":10,"fontWeight":"bold"},
"encoding":{"x":{"datum":19,"axis":null},"y":{"field":"ly","type":"quantitative","axis":null},"text":{"field":"val","type":"nominal"},"color":{"condition":{"test":"datum.k=='r'","value":"#e2231e"},"value":"#151515"}}},
{"transform":[{"filter":"datum.b===0 && (datum.m==='GITR' || datum.m==='CXCR3' || datum.m==='CD73' || datum.m==='CCR5')"}],"mark":{"type":"rule","xOffset":-4,"strokeWidth":1.5,"color":"#111"},"encoding":{"x":{"datum":0,"axis":null},"y":{"datum":-0.14,"axis":null},"y2":{"datum":4.68}}}
]}}
]}
]}
],
"spacing":8,
"resolve":{"scale":{"stroke":"independent"},"legend":{"stroke":"independent"}}
}
